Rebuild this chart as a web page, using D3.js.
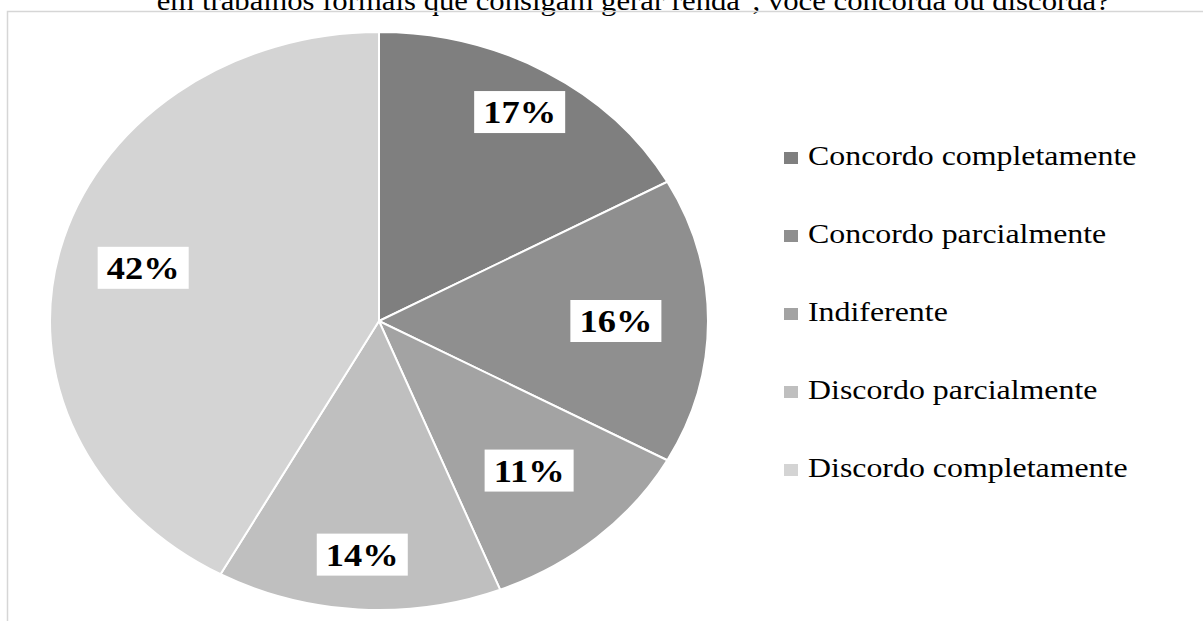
<!DOCTYPE html>
<html>
<head>
<meta charset="utf-8">
<script src="https://cdn.jsdelivr.net/npm/d3@7.9.0/dist/d3.min.js"></script>
<style>
  body { margin: 0; background: #fff; }
  svg { display: block; font-family: "Liberation Serif", "Times New Roman", serif; }
</style>
</head>
<body>
<svg id="chart" width="1203" height="621"></svg>
<script>
const title = '"em trabalhos formais que consigam gerar renda", você concorda ou discorda?';
const categories = [
  'Concordo completamente',
  'Concordo parcialmente',
  'Indiferente',
  'Discordo parcialmente',
  'Discordo completamente'
];
const shares = [17, 16, 11, 14, 42];
const colors = ['#7f7f7f', '#8f8f8f', '#a3a3a3', '#bfbfbf', '#d4d4d4'];

// where each label sits along its slice (fraction of the radius), like Excel's best fit
const labelRadius = [0.84, 0.72, 0.69, 0.81, 0.74];

const svg = d3.select('#chart');

// the original picture is stretched sideways, text included
const cx = 379, cy = 321, ry = 289, rx = 329;
const sx = rx / ry;

// title, cut by the top of the picture
svg.append('g')
  .attr('transform', `translate(627,10) scale(${sx},1)`)
  .append('text')
  .attr('text-anchor', 'middle')
  .attr('font-size', 27)
  .attr('fill', '#000')
  .text(title);

// chart area border (only top and left visible)
svg.append('path')
  .attr('d', 'M7.5,621 V11.5 H1203')
  .attr('fill', 'none')
  .attr('stroke', '#d6d6d6')
  .attr('stroke-width', 1.5);

const pie = d3.pie().sort(null).value(d => d);
const arcs = pie(shares);
const arc = d3.arc().innerRadius(0).outerRadius(ry);

const g = svg.append('g')
  .attr('transform', `translate(${cx},${cy}) scale(${sx},1)`);

g.selectAll('path')
  .data(arcs)
  .enter()
  .append('path')
  .attr('d', arc)
  .attr('fill', (d, i) => colors[i])
  .attr('stroke', '#fff')
  .attr('stroke-width', 2)
  .attr('vector-effect', 'non-scaling-stroke');

// data labels in white boxes
const labels = svg.append('g');
arcs.forEach((d, i) => {
  const a = (d.startAngle + d.endAngle) / 2;
  const r = ry * labelRadius[i];
  const x = cx + sx * r * Math.sin(a);
  const y = cy - r * Math.cos(a);
  const lg = labels.append('g').attr('transform', `translate(${x},${y}) scale(${sx},1)`);
  const rect = lg.append('rect').attr('fill', '#fff');
  const t = lg.append('text')
    .attr('text-anchor', 'middle')
    .attr('dy', '0.35em')
    .attr('font-size', 32)
    .attr('font-weight', 'bold')
    .attr('fill', '#000')
    .text(`${d.data}%`);
  const bb = t.node().getBBox();
  rect.attr('x', bb.x - 8).attr('y', -21)
    .attr('width', bb.width + 16).attr('height', 42);
});

// legend
const legend = svg.append('g').attr('transform', 'translate(784,165)');
categories.forEach((c, i) => {
  const row = legend.append('g').attr('transform', `translate(0,${i * 78})`);
  row.append('rect')
    .attr('x', 0).attr('y', -13)
    .attr('width', 14).attr('height', 12)
    .attr('fill', colors[i]);
  row.append('text')
    .attr('transform', `translate(24,0) scale(${sx},1)`)
    .attr('font-size', 28)
    .attr('fill', '#000')
    .text(c);
});
</script>
</body>
</html>
